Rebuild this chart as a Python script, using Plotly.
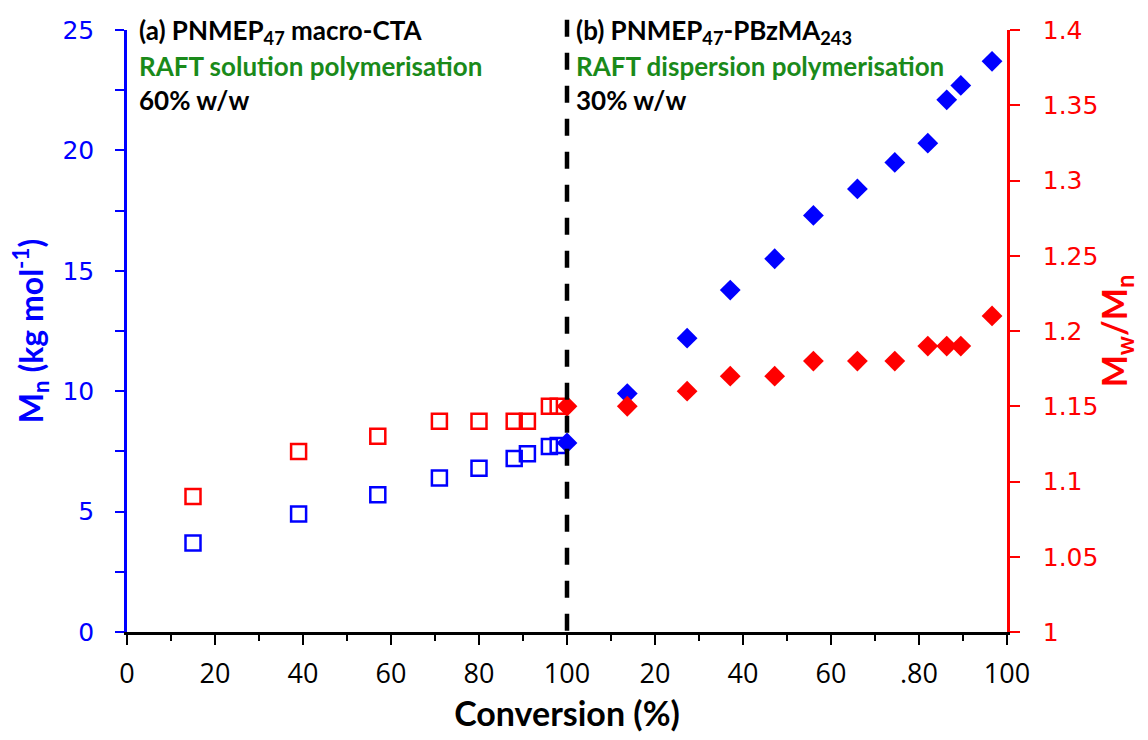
import plotly.graph_objects as go

# (a) PNMEP47 macro-CTA: RAFT solution polymerisation
conv_a = [15, 39, 57, 71, 80, 88, 91, 96, 98]
mn_a = [3.7, 4.9, 5.7, 6.4, 6.8, 7.2, 7.4, 7.7, 7.75]
pdi_a = [1.09, 1.12, 1.13, 1.14, 1.14, 1.14, 1.14, 1.15, 1.15]

# (b) PNMEP47-PBzMA243: RAFT dispersion polymerisation
conv_b = [0, 13.7, 27.3, 37.1, 47.2, 56, 66, 74.5, 82, 86.3, 89.5, 96.6]
mn_b = [7.85, 9.9, 12.2, 14.2, 15.5, 17.3, 18.4, 19.5, 20.3, 22.1, 22.7, 23.7]
pdi_b = [1.15, 1.15, 1.16, 1.17, 1.17, 1.18, 1.18, 1.18, 1.19, 1.19, 1.19, 1.21]

x_tickvals = [0, 20, 40, 60, 80, 100, 120, 140, 160, 180, 200]
x_ticktext = ["0", "20", "40", "60", "80", "100", "20", "40", "60", ".80", "100"]

BLUE = "#0000ff"
RED = "#ff0000"
GREEN = "#1a8a1a"
# stage (b) conversions are placed after the end of stage (a)
OFFSET_B = 100

fig = go.Figure()

fig.add_trace(go.Scatter(
    x=conv_a, y=pdi_a, yaxis="y2", mode="markers",
    marker=dict(symbol="square-open", size=15, color=RED, line=dict(width=2.5, color=RED)),
    showlegend=False))
fig.add_trace(go.Scatter(
    x=conv_a, y=mn_a, mode="markers",
    marker=dict(symbol="square-open", size=15, color=BLUE, line=dict(width=2.5, color=BLUE)),
    showlegend=False))
fig.add_trace(go.Scatter(
    x=[OFFSET_B + c for c in conv_b], y=pdi_b, yaxis="y2", mode="markers",
    marker=dict(symbol="diamond", size=16, color=RED, line=dict(width=0)),
    showlegend=False))
fig.add_trace(go.Scatter(
    x=[OFFSET_B + c for c in conv_b], y=mn_b, mode="markers",
    marker=dict(symbol="diamond", size=16, color=BLUE, line=dict(width=0)),
    showlegend=False))

# boundary between the two polymerisation stages
fig.add_shape(type="line", xref="x", yref="paper", x0=100, x1=100, y0=1.017, y1=0,
              line=dict(color="black", width=4.5, dash="17px,16px"))

ann_font = "Lato"
texts = [
    (0.0114, 0.998, "(a) PNMEP<sub>47</sub> macro-CTA", "black"),
    (0.0114, 0.940, "RAFT solution polymerisation", GREEN),
    (0.0114, 0.884, "60% w/w", "black"),
    (0.508, 0.998, "(b) PNMEP<sub>47</sub>-PBzMA<sub>243</sub>", "black"),
    (0.508, 0.940, "RAFT dispersion polymerisation", GREEN),
    (0.508, 0.884, "30% w/w", "black"),
]
for x, y, t, c in texts:
    fig.add_annotation(x=x, y=y, xref="paper", yref="paper", text="<b>%s</b>" % t,
                       showarrow=False, xanchor="left", yanchor="middle",
                       font=dict(family=ann_font, size=26, color=c))

fig.update_layout(
    width=1148, height=740,
    margin=dict(l=127, r=141, t=30, b=108),
    paper_bgcolor="white", plot_bgcolor="white",
    xaxis=dict(
        range=[0, 200], tickmode="array", tickvals=x_tickvals, ticktext=x_ticktext,
        ticks="outside", ticklen=10, tickwidth=2, tickcolor="black",
        minor=dict(tickvals=list(range(10, 200, 20)), ticks="outside", ticklen=6,
                   tickwidth=2, tickcolor="black"),
        showline=True, linecolor="black", linewidth=3, showgrid=False, zeroline=False,
        tickfont=dict(family="Open Sans", size=27, color="black"),
        ticklabelstandoff=6,
        title=dict(text="<b>Conversion (%)</b>", font=dict(family=ann_font, size=34, color="black"),
                   standoff=12),
    ),
    yaxis=dict(
        range=[0, 25], tickmode="linear", tick0=0, dtick=5,
        ticks="outside", ticklen=9, tickwidth=2, tickcolor=BLUE,
        minor=dict(dtick=2.5, ticks="outside", ticklen=9, tickwidth=2, tickcolor=BLUE),
        showline=True, linecolor=BLUE, linewidth=2.5, showgrid=False, zeroline=False,
        tickfont=dict(family="DejaVu Sans", size=25, color=BLUE),
        ticklabelstandoff=16,
        title=dict(text="<b>M<sub>n</sub> (kg mol<sup>-1</sup>)</b>",
                   font=dict(family=ann_font, size=32, color=BLUE), standoff=10),
    ),
    yaxis2=dict(
        range=[1, 1.4], overlaying="y", side="right", tickmode="linear", tick0=1, dtick=0.05,
        ticks="outside", ticklen=10, tickwidth=2, tickcolor=RED,
        showline=True, linecolor=RED, linewidth=2.5, showgrid=False, zeroline=False,
        tickfont=dict(family="DejaVu Sans", size=25, color=RED),
        ticklabelstandoff=18,
        title=dict(text="<b>M<sub>w</sub>/M<sub>n</sub></b>",
                   font=dict(family=ann_font, size=34, color=RED), standoff=6),
    ),
)

fig.write_html("out.html")
